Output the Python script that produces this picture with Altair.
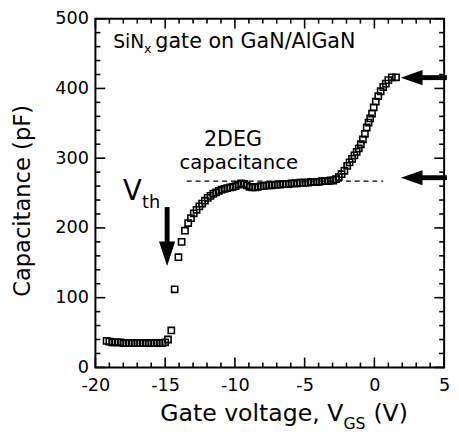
import altair as alt
import pandas as pd

# ---------------- data ----------------
V_GS = [-19.2, -19.0, -18.8, -18.6, -18.4, -18.2, -18.0, -17.8, -17.6, -17.4, -17.2,
        -17.0, -16.8, -16.6, -16.4, -16.2, -16.0, -15.8, -15.6, -15.4, -15.2, -15.0,
        -14.8, -14.56, -14.32, -14.05, -13.82, -13.58, -13.35, -13.15, -12.95, -12.75,
        -12.55, -12.35, -12.15, -11.95, -11.75, -11.55, -11.35, -11.15, -10.95, -10.75,
        -10.55, -10.35, -10.15, -9.95, -9.75, -9.55, -9.35, -9.15, -8.95, -8.75, -8.55,
        -8.35, -8.15, -7.95, -7.75, -7.55, -7.35, -7.15, -6.95, -6.75, -6.55, -6.35,
        -6.15, -5.95, -5.75, -5.55, -5.35, -5.15, -4.95, -4.75, -4.55, -4.35, -4.15,
        -3.95, -3.75, -3.55, -3.35, -3.15, -2.95, -2.75, -2.55, -2.35, -2.15, -1.95,
        -1.78, -1.6, -1.43, -1.27, -1.12, -0.97, -0.82, -0.68, -0.55, -0.42, -0.3,
        -0.17, -0.05, 0.1, 0.28, 0.45, 0.63, 0.82, 1.0, 1.25, 1.55]
CAP_PF = [38, 37, 36, 36, 36, 36, 35, 35, 35, 35, 35,
          35, 35, 35, 35, 35, 35, 35, 35, 35, 35, 36,
          40, 53, 112, 158, 180, 196, 207, 214, 221, 226,
          231, 235, 239, 243, 246, 249, 251, 253, 255, 256,
          257, 258, 259, 260, 262, 264, 263, 261, 259, 258, 258,
          259, 260, 260, 261, 261, 261, 262, 262, 262, 263, 263,
          263, 264, 264, 264, 265, 265, 265, 265, 266, 266, 266,
          266, 267, 267, 267, 268, 268, 270, 273, 277, 282, 289,
          294, 299, 304, 309, 314, 320, 327, 335, 344, 351, 357,
          364, 373, 381, 389, 396, 402, 407, 412, 416, 416]

X_MAJOR = [-20, -15, -10, -5, 0, 5]
X_MINOR = [v for v in range(-20, 6) if v % 5 != 0]
Y_MAJOR = [0, 100, 200, 300, 400, 500]
Y_MINOR = [v for v in range(0, 501, 20) if v % 100 != 0]

# 2DEG capacitance reference line
DASH_V = [-13.45]
DASH_V2 = [0.63]
DASH_C = [267]

# arrows on the right (tip voltage, capacitance level)
RARROW_TIP_V = [1.9, 1.9]
RARROW_C = [415.5, 272]
# V_th arrow (voltage, shaft top, head top, head centre)
VTH_V = [-14.86]
VTH_TOP = [230]
VTH_HEAD_TOP = [179]
VTH_HEAD_C = [163]

FONT = "DejaVu Sans"
W, H = 355, 355
PXV = W / 25.0  # px per volt

xs = alt.Scale(domain=[-20, 5], nice=False, zero=False)
ys = alt.Scale(domain=[0, 500], nice=False, zero=False)

x_axis = alt.Axis(values=X_MAJOR, ticks=False, domain=False, grid=False,
                  labelFont=FONT, labelFontSize=18, labelColor="black",
                  labelPadding=10, labelFlush=False, labelOverlap=False,
                  labelExpr="'' + datum.value", title=None)
y_axis = alt.Axis(values=Y_MAJOR, ticks=False, domain=False, grid=False,
                  labelFont=FONT, labelFontSize=18, labelColor="black",
                  labelPadding=7, labelFlush=False, labelOverlap=False,
                  labelExpr="'' + datum.value",
                  title="Capacitance (pF)", titleFont=FONT, titleFontSize=23,
                  titleFontWeight="normal", titleColor="black", titleAngle=270,
                  titleX=-74, titleY=185, titleAlign="center", titleBaseline="middle")


def X(f="V"):
    return alt.X(f"{f}:Q", scale=xs, axis=x_axis)


def Y(f="C"):
    return alt.Y(f"{f}:Q", scale=ys, axis=y_axis)


df = pd.DataFrame({"V": V_GS, "C": CAP_PF})

points = alt.Chart(df).mark_point(
    shape="square", filled=False, size=40, strokeWidth=1.6, color="black", opacity=1
).encode(x=X(), y=Y())

# inward ticks on all four sides
layers = []
for vals, ln in ((X_MAJOR, 10), (X_MINOR, 5)):
    d = pd.DataFrame({"V": vals})
    layers.append(alt.Chart(d).mark_rule(color="black", strokeWidth=1.6).encode(
        x=X(), y=alt.value(H), y2=alt.value(H - ln)))
    layers.append(alt.Chart(d).mark_rule(color="black", strokeWidth=1.6).encode(
        x=X(), y=alt.value(0), y2=alt.value(ln)))
for vals, ln in ((Y_MAJOR, 10), (Y_MINOR, 5)):
    d = pd.DataFrame({"C": vals})
    layers.append(alt.Chart(d).mark_rule(color="black", strokeWidth=1.6).encode(
        y=Y(), x=alt.value(0), x2=alt.value(ln)))
    layers.append(alt.Chart(d).mark_rule(color="black", strokeWidth=1.6).encode(
        y=Y(), x=alt.value(W), x2=alt.value(W - ln)))

dash = alt.Chart(pd.DataFrame({"V": DASH_V, "V2": DASH_V2, "C": DASH_C})).mark_rule(
    color="black", strokeWidth=1.3, strokeDash=[5, 4]
).encode(x=X(), x2="V2:Q", y=Y())

# right arrows
ra = pd.DataFrame({
    "Vh": [t + 11 / PXV for t in RARROW_TIP_V],
    "Vs": [t + 20 / PXV for t in RARROW_TIP_V],
    "Ve": [5.2 for _ in RARROW_TIP_V],
    "C": RARROW_C,
})
ra_shaft = alt.Chart(ra).mark_rule(color="black", strokeWidth=5).encode(
    x=X("Vs"), x2="Ve:Q", y=Y())
ra_head = alt.Chart(ra).mark_point(
    shape="M1,-0.7L1,0.7L-1,0Z", filled=True, size=484, color="black", opacity=1, strokeWidth=0
).encode(x=X("Vh"), y=Y())

vth = pd.DataFrame({"V": VTH_V, "Ct": VTH_TOP, "Cb": VTH_HEAD_TOP, "Ch": VTH_HEAD_C})
vth_shaft = alt.Chart(vth).mark_rule(color="black", strokeWidth=5).encode(
    x=X(), y=Y("Ct"), y2="Cb:Q")
vth_head = alt.Chart(vth).mark_point(
    shape="M-0.66,-1L0.66,-1L0,1Z", filled=True, size=625, color="black", opacity=1, strokeWidth=0
).encode(x=X(), y=Y("Ch"))


def label(text, v, c, size, dx=0, dy=0, align="left"):
    return alt.Chart(pd.DataFrame({"V": [v], "C": [c]})).mark_text(
        text=text, font=FONT, fontSize=size, color="black", align=align,
        baseline="alphabetic", dx=dx, dy=dy
    ).encode(x=X(), y=Y())


texts = [
    label("SiN", -18.73, 457.7, 19),
    label("x", -18.73, 457.7, 13, dx=31.5, dy=5),
    label("gate on GaN/AlGaN", -18.73, 457.7, 21, dx=43),
    label("2DEG", -10.14, 316.9, 21, align="center"),
    label("capacitance", -9.72, 284.5, 20, align="center"),
    label("V", -18.03, 239.4, 28),
    label("th", -18.03, 239.4, 18, dx=19.5, dy=8),
]


def pxtext(text, x, y, size):
    return alt.Chart(pd.DataFrame({"a": [0]})).mark_text(
        text=text, font=FONT, fontSize=size, color="black", align="left",
        baseline="alphabetic"
    ).encode(x=alt.value(x), y=alt.value(y))


xtitle = [
    pxtext("Gate voltage, V", 66, 410, 24),
    pxtext("GS", 252.5, 418, 16),
    pxtext("(V)", 283, 410, 24),
]

chart = alt.layer(
    *layers, dash, ra_shaft, ra_head, vth_shaft, vth_head, points, *texts, *xtitle
).properties(
    width=W, height=H,
    autosize=alt.AutoSizeParams(type="none"),
    padding={"left": 89, "top": 7, "right": 7, "bottom": 70},
).configure_view(stroke="black", strokeWidth=2)

chart.save("out.html", embed_options={"renderer": "svg", "actions": False})
